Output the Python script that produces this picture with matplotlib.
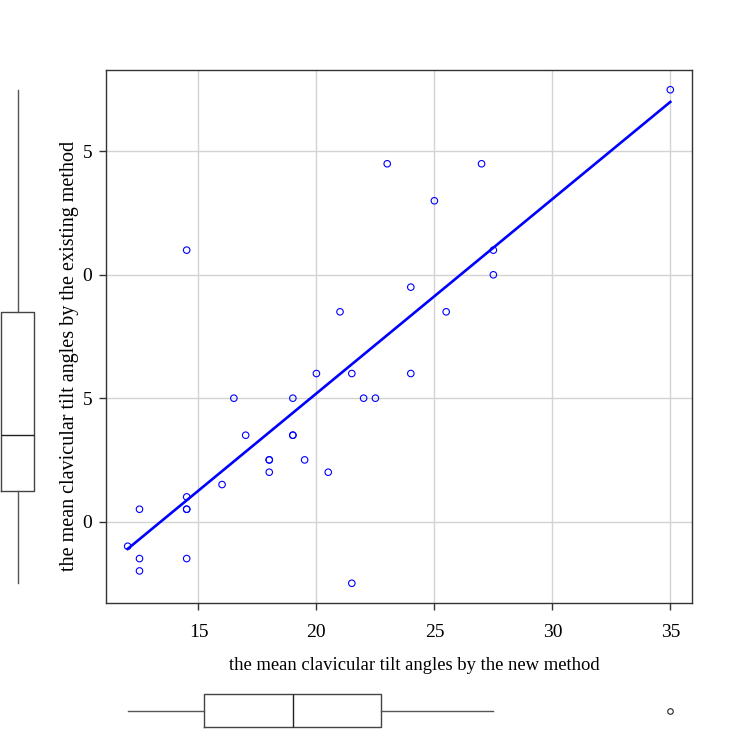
import matplotlib
matplotlib.use("Agg")
import matplotlib.pyplot as plt
import numpy as np

plt.rcParams['font.family'] = ['Liberation Serif', 'DejaVu Serif']

# mean clavicular tilt angles (new method, existing method); duplicates overlap in the scatter
x_new = [35, 23, 27, 25, 14.5, 27.5, 27.5, 24, 21, 25.5, 20, 21.5, 24, 16.5, 19, 22,
         22.5, 17, 19, 18, 19.5, 18, 20.5, 16, 14.5, 14.5, 12.5, 12, 12.5, 14.5, 12.5,
         21.5, 14.5, 18, 19]
y_existing = [27.5, 24.5, 24.5, 23, 21, 21, 20, 19.5, 18.5, 18.5, 16, 16, 16, 15, 15, 15,
              15, 13.5, 13.5, 12.5, 12.5, 12, 12, 11.5, 11, 10.5, 10.5, 9, 8.5, 8.5, 8,
              7.5, 10.5, 12.5, 13.5]
x_ticks = [15, 20, 25, 30, 35]
y_ticks = [10, 15, 20, 25]
# as visible in the reference (leading digit hidden behind the axis title)
y_tick_labels = ["0", "5", "0", "5"]
x_label = "the mean clavicular tilt angles by the new method"
y_label = "the mean clavicular tilt angles by the existing method"

x = np.array(x_new, dtype=float)
y = np.array(y_existing, dtype=float)

W = H = 750
fig = plt.figure(figsize=(7.5, 7.5), dpi=100)

def rect(l, t, r, b):
    return [l / W, 1 - b / H, (r - l) / W, (b - t) / H]

BLUE = '#0000ff'
EDGE = '#333333'

ax = fig.add_axes(rect(106, 70, 692, 603))
ax.scatter(x, y, s=22, facecolors='none', edgecolors=BLUE, linewidths=0.8, zorder=3)
coef = np.polyfit(x, y, 1)
xs = np.array([x.min(), x.max()])
ax.plot(xs, np.polyval(coef, xs), color=BLUE, lw=1.9, zorder=4)

xr = x.max() - x.min()
yr = y.max() - y.min()
xlim = (x.min() - 0.04 * xr, x.max() + 0.04 * xr)
ylim = (y.min() - 0.04 * yr, y.max() + 0.04 * yr)
ax.set_xlim(*xlim)
ax.set_ylim(*ylim)
ax.set_xticks(x_ticks)
ax.set_yticks(y_ticks)
ax.set_yticklabels(y_tick_labels)
ax.grid(True, color='#d3d3d3', lw=1.0, zorder=0)
ax.set_axisbelow(True)
for s in ax.spines.values():
    s.set_color(EDGE)
    s.set_linewidth(1.0)
ax.tick_params(axis='both', direction='out', length=5, width=1, color=EDGE, labelsize=14)
ax.tick_params(axis='x', pad=10)
ax.tick_params(axis='y', pad=5)

fig.text(414 / W, 1 - 666 / H, x_label, ha='center', va='center', fontsize=13.4, zorder=5)
fig.text(70 / W, 1 - 356 / H, y_label, ha='center', va='center', rotation=90,
         fontsize=14.5, zorder=5)

boxprops = dict(color='#444444', linewidth=1.0)
medianprops = dict(color='#222222', linewidth=1.0)
whiskerprops = dict(color='#555555', linewidth=1.0)
flierprops = dict(marker='o', markersize=4, markerfacecolor='none',
                  markeredgecolor='#222222', markeredgewidth=0.8)

# left (vertical) boxplot of existing method
axl = fig.add_axes(rect(0, 70, 60, 603))
axl.boxplot(y, positions=[17.8], widths=33, vert=True, whis=1.5, showcaps=False,
            boxprops=boxprops, medianprops=medianprops, whiskerprops=whiskerprops,
            flierprops=flierprops, manage_ticks=False)
axl.set_xlim(0, 60)
axl.set_ylim(*ylim)
axl.set_xticks([])
axl.set_yticks([])
axl.patch.set_alpha(0)
for s in axl.spines.values():
    s.set_visible(False)

# bottom (horizontal) boxplot of new method
axb = fig.add_axes(rect(106, 685, 692, 735))
axb.boxplot(x, positions=[24.3], widths=33.4, vert=False, whis=1.5, showcaps=False,
            boxprops=boxprops, medianprops=medianprops, whiskerprops=whiskerprops,
            flierprops=flierprops, manage_ticks=False)
axb.set_xlim(*xlim)
axb.set_ylim(0, 50)
axb.set_xticks([])
axb.set_yticks([])
axb.patch.set_alpha(0)
for s in axb.spines.values():
    s.set_visible(False)

fig.savefig("out.png", dpi=100)
